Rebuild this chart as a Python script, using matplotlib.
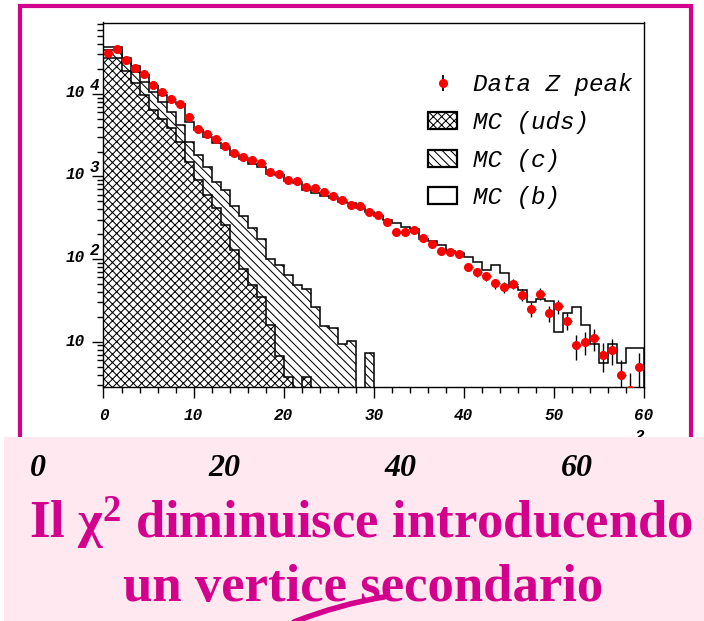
import numpy as np
import matplotlib
matplotlib.use("Agg")
import matplotlib.pyplot as plt
import matplotlib.transforms as mtransforms
from matplotlib.patches import Rectangle, Patch, PathPatch
from matplotlib.lines import Line2D
from matplotlib.path import Path
from matplotlib.ticker import MultipleLocator, FixedLocator, LogLocator, NullFormatter

# ---- chi^2 distribution, 1-unit bins from 0 to 60 ----
bin_edges = np.arange(0, 61, 1)

data_z_peak = np.array([
    31500, 34700, 26000, 20700, 17300, 12700, 10450, 8750, 7550, 5250,
    3790, 3240, 2820, 2360, 1940, 1740, 1585, 1460, 1145, 1065,
    915, 875, 740, 725, 655, 585, 515, 450, 435, 375,
    340, 285, 210, 210, 225, 182, 151, 126, 122, 115,
    81, 69, 62, 51, 46, 50, 37, 25, 38, 22,
    27, 18, 9, 10, 11, 7, 8, 4, 2.6, 5])

mc_uds = np.array([
    27500, 27500, 18900, 13700, 9700, 6380, 4970, 3830, 2640, 1510,
    907, 597, 412, 259, 130, 76, 49, 35, 16, 6.7,
    3.7, 0, 3.7, 0, 0, 0, 0, 0, 0, 0,
    0, 0, 0, 0, 0, 0, 0, 0, 0, 0,
    0, 0, 0, 0, 0, 0, 0, 0, 0, 0,
    0, 0, 0, 0, 0, 0, 0, 0, 0, 0])

mc_c = np.array([
    6500, 6500, 6300, 4600, 4370, 4070, 3080, 2270, 1560, 1130,
    913, 718, 453, 428, 310, 256, 187, 141, 84, 78,
    60, 49, 40, 26, 15.5, 14.5, 9.3, 10.3, 0, 7.4,
    0, 0, 0, 0, 0, 0, 0, 0, 0, 0,
    0, 0, 0, 0, 0, 0, 0, 0, 0, 0,
    0, 0, 0, 0, 0, 0, 0, 0, 0, 0])

mc_b = np.array([
    2500, 2500, 2200, 3600, 2830, 2110, 1650, 1800, 3280, 1890,
    1840, 1675, 1655, 1503, 1380, 1282, 1180, 1114, 964, 950,
    819, 793, 643, 611, 565, 530, 486, 464, 419, 368,
    332, 297, 271, 243, 229, 175, 166, 150, 125, 119,
    105, 93, 74, 84, 68, 46, 42, 30, 33, 31,
    13, 22, 26, 16, 9.4, 5.6, 9.3, 5.6, 8.3, 8.3])

x_ticks = [0, 10, 20, 30, 40, 50, 60]
y_decades = [1, 2, 3, 4]
legend_labels = ["Data Z peak", "MC (uds)", "MC (c)", "MC (b)"]
big_x_labels = ["0", "20", "40", "60"]
title_lines = ["Il \u03c7$^{2}$ diminuisce introducendo", "un vertice secondario"]

# ---- style ----
MAGENTA = "#D2008C"
PINK = "#FFE8F0"
plt.rcParams["mathtext.default"] = "regular"
plt.rcParams["hatch.linewidth"] = 0.75
tick_font = dict(family="Liberation Mono", weight="bold", style="italic", size=11.5)
legend_font = dict(family="Liberation Mono", style="italic", size=17.5)
HATCH_UDS = "xxxx"
HATCH_C = "\\\\\\\\"

W, H = 704, 621
fig = plt.figure(figsize=(W / 100, H / 100), dpi=100)
fig.patch.set_facecolor("white")

# main histogram panel
ax = fig.add_axes([103.5 / W, 1 - 387 / H, 540.5 / W, 364.5 / H])
ax.set_yscale("log")
ax.set_xlim(0, 60)
ax.set_ylim(2.83, 73100)

floor = 1e-3
lvl_uds = mc_uds
lvl_c = mc_uds + mc_c
lvl_tot = mc_uds + mc_c + mc_b


def stack_layer(values, hatch=None):
    ax.stairs(np.where(values > 0, values, floor), bin_edges, baseline=floor,
              fill=True, facecolor="white", edgecolor="black", linewidth=1.1,
              hatch=hatch)


stack_layer(lvl_tot)
stack_layer(lvl_c, hatch=HATCH_C)
stack_layer(lvl_uds, hatch=HATCH_UDS)

centers = 0.5 * (bin_edges[:-1] + bin_edges[1:])
ax.errorbar(centers, data_z_peak, xerr=0.5, yerr=np.sqrt(data_z_peak),
            fmt="o", ms=5.5, mfc="red", mec="red", ecolor="black",
            elinewidth=1.0, capsize=0, zorder=5)

# axes frame and ticks
for s in ax.spines.values():
    s.set_linewidth(1.0)
    s.set_color("black")
ax.xaxis.set_major_locator(FixedLocator(x_ticks))
ax.xaxis.set_minor_locator(MultipleLocator(2))
ax.yaxis.set_major_locator(FixedLocator([10.0 ** k for k in y_decades]))
ax.yaxis.set_minor_locator(LogLocator(base=10, subs=np.arange(2, 10)))
ax.yaxis.set_major_formatter(NullFormatter())
ax.yaxis.set_minor_formatter(NullFormatter())
ax.tick_params(which="major", direction="out", length=8, width=1, color="black")
ax.tick_params(which="minor", direction="out", length=4.5, width=1, color="black")
ax.tick_params(axis="x", pad=7)
ax.set_xticklabels([str(t) for t in x_ticks])
for lab in ax.get_xticklabels():
    lab.set_fontproperties(tick_font)

# y tick labels written as 10 with a raised exponent
ytrans = mtransforms.blended_transform_factory(ax.transAxes, ax.transData)
for k in y_decades:
    if k == 1:
        ax.annotate("10", xy=(0, 10.0 ** k), xycoords=ytrans, xytext=(-18.5, 0),
                    textcoords="offset pixels", ha="right", va="center",
                    annotation_clip=False, **tick_font)
    else:
        ax.annotate("10", xy=(0, 10.0 ** k), xycoords=ytrans, xytext=(-18.5, 1.8),
                    textcoords="offset pixels", ha="right", va="center",
                    annotation_clip=False, **tick_font)
        ax.annotate(str(k), xy=(0, 10.0 ** k), xycoords=ytrans, xytext=(-14, 8.5),
                    textcoords="offset pixels", ha="left", va="center",
                    annotation_clip=False, **tick_font)

# legend
data_handle = (Line2D([], [], ls="none", marker="|", mec="black", ms=12, mew=1.3),
               Line2D([], [], ls="none", marker="o", mfc="red", mec="red", ms=5.5))
handles = [data_handle,
           Patch(facecolor="white", edgecolor="black", hatch=HATCH_UDS, linewidth=1.6),
           Patch(facecolor="white", edgecolor="black", hatch=HATCH_C, linewidth=1.6),
           Patch(facecolor="white", edgecolor="black", linewidth=1.6)]
leg = ax.legend(handles, legend_labels, loc="upper left",
                bbox_to_anchor=((428 - 103.5) / 540.5, 1 - (73.5 - 22.5) / 364.5),
                frameon=False, borderpad=0, borderaxespad=0, numpoints=1,
                handlelength=1.2, handleheight=0.72, handletextpad=0.66,
                labelspacing=0.6, prop=legend_font)

# ---- page decoration: frame, pink caption panel, caption text ----
ov = fig.add_axes([0, 0, 1, 1], zorder=5)
ov.set_xlim(0, W)
ov.set_ylim(H, 0)
ov.axis("off")
ov.patch.set_visible(False)

ov.add_patch(Rectangle((19.5, 5.5), 671.5, 520, fill=False, edgecolor=MAGENTA,
                       linewidth=3.0, zorder=1))
ov.text(606, 449, "\u03c7", ha="left", va="baseline", zorder=1,
        family="DejaVu Sans", style="italic", size=13)
ov.text(635, 441, "2", ha="left", va="baseline", zorder=1, **tick_font)
ov.add_patch(Rectangle((4, 437), W - 4, H - 437, facecolor=PINK, edgecolor="none",
                       zorder=2))

for xpos, lab in zip([38, 224.5, 400, 577], big_x_labels):
    ov.text(xpos, 468, lab, ha="center", va="center", zorder=3,
            family="Liberation Serif", weight="bold", style="italic", size=23)

ov.text(361.5, 538, title_lines[0], ha="center", va="baseline", color=MAGENTA,
        family="Liberation Serif", weight="bold", size=38, zorder=3)
ov.text(363.5, 601.5, title_lines[1], ha="center", va="baseline", color=MAGENTA,
        family="Liberation Serif", weight="bold", size=38, zorder=3)

stroke = Path([(384, 597), (340, 604), (294, 622)],
              [Path.MOVETO, Path.CURVE3, Path.CURVE3])
ov.add_patch(PathPatch(stroke, fill=False, edgecolor=MAGENTA, linewidth=4.0,
                       capstyle="round", zorder=4))

fig.savefig("out.png", dpi=100)
